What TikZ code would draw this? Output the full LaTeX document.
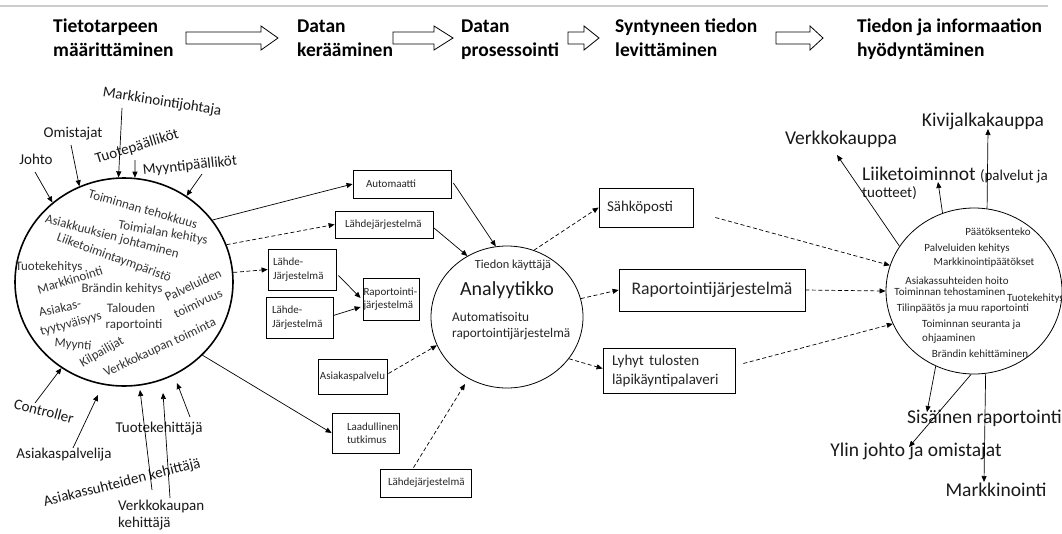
\documentclass[tikz,border=0pt]{standalone}
\usepackage{fontspec}
\setmainfont{Carlito}
\usetikzlibrary{arrows.meta,shapes.geometric,calc}

\begin{document}
\begin{tikzpicture}[x=1pt,y=-1pt,
  arr/.style={-{Triangle[length=6pt,width=5pt]}, line width=0.7pt},
  darr/.style={arr, dash pattern=on 4pt off 2.5pt},
  box/.style={draw, line width=0.8pt, inner ysep=0pt, align=left, text=black!85},
  hdr/.style={inner sep=0pt, anchor=base west, align=left, font=\bfseries\fontsize{19.5}{24.5}\selectfont},
  hdrarrow/.style={draw, fill=white, line width=0.8pt, line join=miter},
  intxt/.style={inner sep=0pt, text=black!80, font=\fontsize{13}{15}\selectfont},
  ext/.style={inner sep=0pt, text=black!90, font=\fontsize{15}{17}\selectfont},
  big/.style={inner sep=0pt, text=black!90, font=\fontsize{19.5}{22}\selectfont},
  rtxt/.style={inner sep=0pt, text=black!85, font=\fontsize{11}{14}\selectfont},
  f11/.style={font=\fontsize{11}{13.5}\selectfont},
  f15/.style={font=\fontsize{15}{19}\selectfont},
]
\useasboundingbox (0,0) rectangle (1062,533);
\clip (0,0) rectangle (1062,533);
\fill[white] (0,0) rectangle (1062,533);

% thin rule along the top
\draw[black!20, line width=1.5pt] (0,6) -- (1048,6);

% ---- process header (anchored on the baseline of the second line) ----
\node[hdr] (h1) at (53,56.5) {Tietotarpeen\\määrittäminen};
\node[hdr] (h2) at (297,56.5) {Datan\\kerääminen};
\node[hdr] (h3) at (461,56.5) {Datan\\prosessointi};
\node[hdr] (h4) at (615,56.5) {Syntyneen tiedon\\levittäminen};
\node[hdr] (h5) at (857,56.5) {Tiedon ja informaation\\hyödyntäminen};

\draw[hdrarrow] (186,32) -- (261,32) -- (261,26) -- (278,38) -- (261,50) -- (261,44) -- (186,44) -- cycle;
\draw[hdrarrow] (393,32) -- (434,32) -- (434,26) -- (453,38) -- (434,50) -- (434,44) -- (393,44) -- cycle;
\draw[hdrarrow] (568,32) -- (584,32) -- (584,26) -- (599,38) -- (584,50) -- (584,44) -- (568,44) -- cycle;
\draw[hdrarrow] (776,32) -- (810,32) -- (810,26) -- (823,38) -- (810,50) -- (810,44) -- (776,44) -- cycle;

% ---- information needs circle ----
\node[draw, ellipse, line width=1.6pt, inner sep=0pt, minimum width=218pt, minimum height=208pt] (L) at (124,282) {};

\node[intxt, rotate=-16] (n1) at (143,209) {Toiminnan tehokkuus};
\node[intxt, rotate=-10] (n2) at (163,233) {Toimialan kehitys};
\node[intxt, rotate=-15] (n3) at (112,237) {Asiakkuuksien johtaminen};
\node[intxt, rotate=-20] (n4) at (114,258) {Liiketoimintaympäristö};
\node[intxt] (n5) at (49,267) {Tuotekehitys};
\node[intxt, rotate=17] (n6) at (70,280) {Markkinointi};
\node[intxt] (n7) at (122,289) {Brändin kehitys};
\node[intxt, rotate=25] (n8) at (193,285) {Palveluiden};
\node[intxt, rotate=25] (n9) at (198,303) {toimivuus};
\node[intxt, rotate=12] (n10) at (60,308) {Asiakas-};
\node[intxt, rotate=15] (n11) at (71,324) {tyytyväisyys};
\node[intxt] (n12) at (131,308) {Talouden};
\node[intxt] (n13) at (134,325) {raportointi};
\node[intxt, rotate=-5] (n14) at (73,345) {Myynti};
\node[intxt, rotate=30] (n15) at (102,352) {Kilpailijat};
\node[intxt, rotate=25] (n16) at (160,348) {Verkkokaupan toiminta};

% people around the circle
\node[ext, rotate=-9] (mj) at (162,102) {Markkinointijohtaja};
\node[ext] (omi) at (73,134) {Omistajat};
\node[ext] (joh) at (36,159) {Johto};
\node[ext, rotate=17] (tp) at (137,147) {Tuotepäälliköt};
\node[ext, rotate=6] (myp) at (190,166) {Myyntipäälliköt};
\node[ext, rotate=-15] (ctrl) at (44,411) {Controller};
\node[ext] (aspl) at (64,455) {Asiakaspalvelija};
\node[ext] (tke) at (159,429) {Tuotekehittäjä};
\node[ext, rotate=14] (ask) at (122,483) {Asiakassuhteiden kehittäjä};
\node[ext, align=left, anchor=north west, font=\fontsize{15}{17}\selectfont] (vkk) at (118,500) {Verkkokaupan\\kehittäjä};

\coordinate (aspl-end) at (98,395);
\coordinate (tke-end) at (177,383);
\coordinate (ask-end) at (140,390);
\coordinate (vkk-end) at (163,393);

\draw[arr] ($(mj)+(-40,6)$) -- (L.93);
\draw[arr] ($(omi)+(-2,11)$) -- (L.115);
\draw[arr] ($(joh)+(-1,13)$) -- (L.132);
\draw[arr] ($(tp)+(-2,13)$) -- (L.84);
\draw[arr] ($(myp)+(12,8)$) -- (L.54);
\draw[arr] ($(ctrl)+(-9,-8)$) -- (L.234);
\draw[arr] ($(aspl)+(9,-7)$) -- (aspl-end);
\draw[arr] ($(tke)+(31,-12)$) -- (tke-end);
\draw[arr] ($(ask)+(30,7)$) -- (ask-end);
\draw[arr] ($(vkk.north west)+(52,-2)$) -- (vkk-end);

% ---- data sources ----
\node[box, f11, minimum height=28pt, inner xsep=13pt, text width=72pt] (auto) at (402,184) {Automaatti};
\node[box, f11, minimum height=27pt, inner xsep=10pt, text width=78pt] (lj1) at (384,224.5) {Lähdejärjestelmä};
\node[box, f11, minimum height=41pt, inner xsep=5pt, text width=58pt] (lj2) at (302,269.5) {Lähde-\\Järjestelmä};
\node[box, f11, minimum height=41pt, inner xsep=6pt, text width=55pt] (lj3) at (299.5,317.5) {Lähde-\\Järjestelmä};
\node[box, font=\fontsize{11}{12.5}\selectfont, minimum height=42pt, inner xsep=0.5pt, text width=55pt] (rap) at (391,299) {Raportointi-\\järjestelmä};
\node[box, f11, minimum height=35pt, minimum width=69pt, inner xsep=0pt] (asp) at (352.5,376.5) {Asiakaspalvelu};
\node[box, f11, minimum height=40pt, inner xsep=15pt, text width=37pt] (laad) at (365.5,433) {Laadullinen\\tutkimus};
\node[box, f11, minimum height=28pt, inner xsep=8pt, text width=75pt] (lj4) at (425.5,483) {Lähdejärjestelmä};

\draw[arr] (L.35) -- (auto.west);
\draw[darr] (L.20) -- (lj1.west);
\draw[darr] (L.5) -- (lj2.west);
\draw[arr] (L.-43) -- (laad.west);
\draw[arr] ($(lj2.east)+(2,6)$) -- ($(rap.west)+(-2,-1)$);
\draw[arr] ($(lj3.east)+(0,-2)$) -- ($(rap.west)+(-2,8)$);

% ---- analyst ----
\node[draw, ellipse, line width=0.8pt, inner sep=0pt, minimum width=152pt, minimum height=142pt] (C) at (507,317) {};
\node[rtxt, font=\fontsize{12.3}{14}\selectfont] (cu) at (513,265) {Tiedon käyttäjä};
\node[big, font=\fontsize{20}{22}\selectfont] (an) at (507,290) {Analyytikko};
\node[rtxt, align=left, anchor=base west, font=\fontsize{13.3}{16}\selectfont] (ar) at (452,337) {Automatisoitu\\raportointijärjestelmä};

\coordinate (lj4-end) at (465,384);
\draw[arr] ($(auto.east)+(2,-1)$) -- (C.99.5);
\draw[arr] ($(lj1.east)+(0,3)$) -- (C.123);
\draw[darr] ($(asp.east)+(1,-3)$) -- (C.202);
\draw[darr] ($(lj4.north)+(-12,-1)$) -- (lj4-end);

% ---- distribution ----
\node[box, f15, minimum height=39pt, inner xsep=8pt, text width=78pt] (sah) at (646,207.5) {Sähköposti};
\node[box, font=\fontsize{17.7}{20}\selectfont, minimum height=42pt, minimum width=186pt, inner xsep=0pt] (rapj) at (712,290) {Raportointijärjestelmä};
\node[box, f15, minimum height=45pt, inner xsep=9pt, text width=114pt] (lyh) at (669,370.5) {Lyhyt tulosten\\läpikäyntipalaveri};

\draw[darr] (C.68) -- (sah.west);
\draw[darr] (C.14) -- (rapj.west);
\draw[darr] (C.-34) -- ($(lyh.west)+(0,-2)$);

% ---- use of information ----
\node[draw, ellipse, line width=0.8pt, inner sep=0pt, minimum width=176pt, minimum height=166pt] (R) at (974,291) {};

\draw[darr] ($(sah.east)+(22,10)$) -- (R.163);
\draw[darr] (rapj.east) -- (R.180);
\draw[darr] ($(lyh.east)+(8,-7)$) -- (R.202);

\node[rtxt] (r1) at (998,232) {Päätöksenteko};
\node[rtxt] (r2) at (967,249) {Palveluiden kehitys};
\node[rtxt] (r3) at (984,263) {Markkinointipäätökset};
\node[rtxt] (r4) at (957,281) {Asiakassuhteiden hoito};
\node[rtxt] (r5) at (950,292) {Toiminnan tehostaminen};
\node[rtxt, anchor=west] (r6) at (1007,299) {Tuotekehitys};
\node[rtxt] (r7) at (963,309) {Tilinpäätös ja muu raportointi};
\node[rtxt, align=left, anchor=north west] (r8) at (922,320) {Toiminnan seuranta ja\\ohjaaminen};
\node[rtxt] (r9) at (980,354) {Brändin kehittäminen};

\node[big] (kivi) at (983,121) {Kivijalkakauppa};
\node[big] (verk) at (841,139) {Verkkokauppa};
\node[big, align=left, anchor=base west, font=\fontsize{19.5}{17}\selectfont] (liike) at (862,197)
  {Liiketoiminnot {\fontsize{15}{17}\selectfont(palvelut ja}\\{\fontsize{15}{17}\selectfont tuotteet)}};
\node[big, anchor=base west] (sis) at (907,423) {Sisäinen raportointi};
\node[big] (ylin) at (916,451) {Ylin johto ja omistajat};
\node[big] (mark) at (996,490) {Markkinointi};

\draw[arr] (R.81) -- ($(kivi)+(5,8)$);
\draw[arr] (R.149) -- ($(verk)+(-4,16)$);
\draw[arr] (R.112) -- ($(liike.base west)+(76,-15)$);
\draw[arr] (R.243) -- ($(sis.base west)+(20,-11)$);
\draw[arr] (R.268.6) -- ($(ylin)+(-7,-4)$);
\draw[arr] (R.278) -- ($(mark)+(-12,-8)$);
\end{tikzpicture}
\end{document}
